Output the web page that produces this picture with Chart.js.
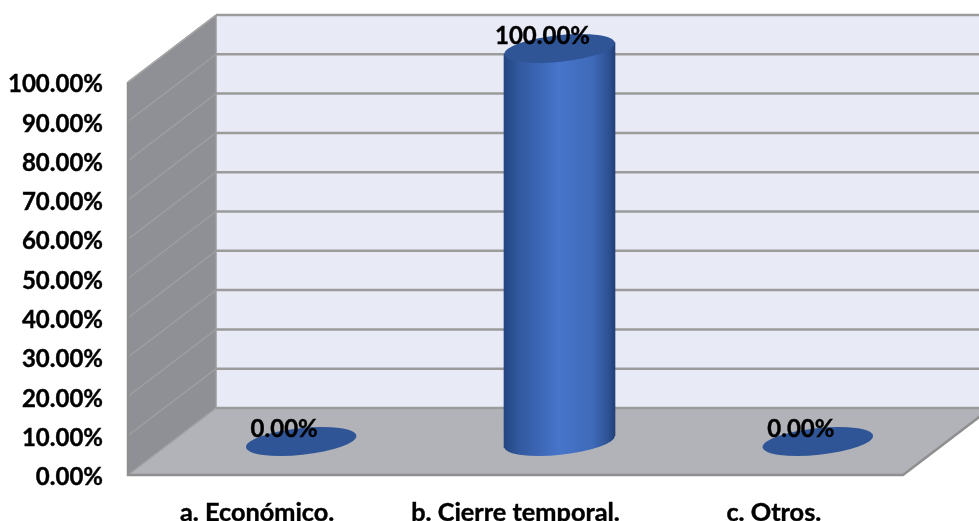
<!DOCTYPE html>
<html><head><meta charset="utf-8">
<style>html,body{margin:0;padding:0;background:#fff}canvas{display:block}</style>
<script src="https://cdn.jsdelivr.net/npm/chart.js@4"></script>
</head><body><canvas id="c" width="979" height="521"></canvas>
<script>
const categories = ["a. Económico.", "b. Cierre temporal.", "c. Otros."];
const percentages = [0, 100, 0];
const tickStep = 10;
const axisMax = 100;

const DEPTH_X = 88, DEPTH_Y = -67, HALF_X = 44, HALF_Y = -33.5;
const BAR_W = 111, ELL_RY = 13.3, TILT = -6 * Math.PI / 180, SKEW = Math.tan(TILT);
const FONT = 'bold 24px Lato';
const fmt = v => v.toFixed(2) + '%';

function poly(ctx, pts, fill) {
  ctx.beginPath();
  pts.forEach((p, i) => i ? ctx.lineTo(p[0], p[1]) : ctx.moveTo(p[0], p[1]));
  ctx.closePath();
  if (fill) { ctx.fillStyle = fill; ctx.fill(); }
}
function line(ctx, pts, color, w) {
  ctx.beginPath();
  pts.forEach((p, i) => i ? ctx.lineTo(p[0], p[1]) : ctx.moveTo(p[0], p[1]));
  ctx.strokeStyle = color; ctx.lineWidth = w; ctx.stroke();
}
function barGradient(ctx, cx) {
  if (!Number.isFinite(cx)) return '#4472c4';
  const g = ctx.createLinearGradient(cx - BAR_W / 2, 0, cx + BAR_W / 2, 0);
  g.addColorStop(0, '#234680');
  g.addColorStop(0.14, '#3259a0');
  g.addColorStop(0.5, '#4775cb');
  g.addColorStop(0.8, '#3f6ab8');
  g.addColorStop(0.95, '#2b5090');
  g.addColorStop(1, '#233f75');
  return g;
}

const walls = {
  id: 'walls',
  beforeDatasetsDraw(chart) {
    const { ctx, chartArea: a, scales: { y } } = chart;
    const L = a.left, R = a.right, T = a.top, B = a.bottom;
    const dx = DEPTH_X, dy = DEPTH_Y;
    ctx.save();
    poly(ctx, [[L + dx, T + dy], [R + dx, T + dy], [R + dx, B + dy], [L + dx, B + dy]], '#e8eaf6');
    poly(ctx, [[L, T], [L + dx, T + dy], [L + dx, B + dy], [L, B]], '#8f9096');
    poly(ctx, [[L, B], [R, B], [R + dx, B + dy], [L + dx, B + dy]], '#b1b3b9');
    y.ticks.forEach(t => {
      const p = y.getPixelForValue(t.value);
      line(ctx, [[L + dx, p + dy], [R + dx, p + dy]], '#9b9b9b', 2.5);
      if (t.value > 0) line(ctx, [[L, p], [L + dx, p + dy]], '#9e9ea0', 1.5);
    });
    line(ctx, [[L, B], [L + dx, B + dy]], '#a0a0a2', 1.5);
    line(ctx, [[L + dx, T + dy], [L + dx, B + dy]], '#9b9b9b', 1.5);
    line(ctx, [[L, T], [L + dx, T + dy]], '#a8a8a8', 1.5);
    line(ctx, [[L, T], [L, B], [R, B], [R + dx, B + dy]], '#8f8f8f', 2.5);
    ctx.restore();
  },
  beforeDatasetDraw(chart, args) {
    const { ctx } = chart;
    const meta = args.meta;
    meta.data.forEach((el, i) => {
      const cx = el.x + HALF_X, base = el.base + HALF_Y, top = el.y + HALF_Y;
      const value = chart.data.datasets[args.index].data[i];
      ctx.save();
      if (value > 0) {
        ctx.beginPath();
        ctx.ellipse(cx, base, BAR_W / 2, ELL_RY, TILT, 0, Math.PI * 2);
        ctx.fillStyle = barGradient(ctx, cx);
        ctx.fill();
        ctx.save();
        ctx.transform(1, SKEW, 0, 1, HALF_X, HALF_Y - SKEW * el.x);
        el.draw(ctx);
        ctx.restore();
      }
      ctx.beginPath();
      ctx.ellipse(cx, top, BAR_W / 2, ELL_RY, TILT, 0, Math.PI * 2);
      ctx.fillStyle = '#2f5597';
      ctx.fill();
      ctx.restore();
    });
    return false;
  },
  afterDatasetsDraw(chart) {
    const { ctx } = chart;
    const meta = chart.getDatasetMeta(0);
    ctx.save();
    ctx.font = FONT; ctx.fillStyle = '#000'; ctx.textAlign = 'center'; ctx.textBaseline = 'middle';
    ctx.strokeStyle = '#000'; ctx.lineWidth = 0.4;
    meta.data.forEach((el, i) => {
      const s = fmt(chart.data.datasets[0].data[i]);
      ctx.fillText(s, el.x + HALF_X - 17, el.y + HALF_Y - 12);
      ctx.strokeText(s, el.x + HALF_X - 17, el.y + HALF_Y - 12);
    });
    ctx.restore();
  }
};

new Chart(document.getElementById('c'), {
  type: 'bar',
  data: {
    labels: categories,
    datasets: [{
      data: percentages,
      barThickness: BAR_W,
      borderWidth: 0,
      backgroundColor: c => barGradient(c.chart.ctx, c.chart.scales.x ? c.chart.scales.x.getPixelForValue(c.dataIndex) : NaN),
      clip: false
    }]
  },
  options: {
    responsive: false,
    animation: false,
    layout: { padding: { top: 82, right: 76, left: 0, bottom: 0 } },
    plugins: { legend: { display: false }, tooltip: { enabled: false } },
    scales: {
      x: {
        grid: { display: false },
        border: { display: false },
        ticks: { color: '#000', font: { family: 'Lato', size: 25.3, weight: 'bold' }, padding: 14.5, maxRotation: 0, autoSkip: false, textStrokeColor: '#000', textStrokeWidth: 0.4 },
        afterFit: s => { s.height = 46; }
      },
      y: {
        min: 0, max: axisMax,
        grid: { display: false },
        border: { display: false },
        ticks: { stepSize: tickStep, color: '#000', font: { family: 'Lato', size: 24, weight: 'bold' }, padding: 17, labelOffset: 2.5, callback: fmt, textStrokeColor: '#000', textStrokeWidth: 0.4 },
        afterFit: s => { s.width = 128; }
      }
    }
  },
  plugins: [walls]
});
</script></body></html>
